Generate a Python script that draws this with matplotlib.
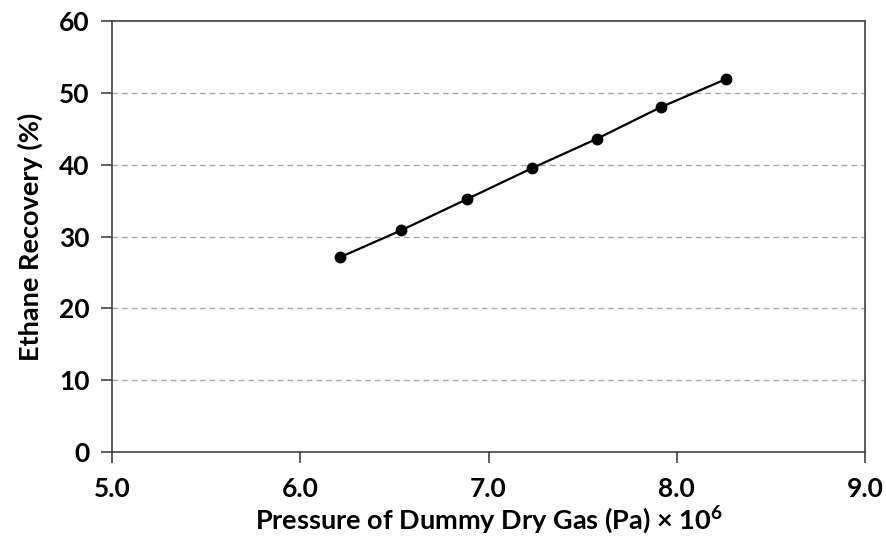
import matplotlib
matplotlib.use("Agg")
import matplotlib.pyplot as plt

FONT = ["Lato", "DejaVu Sans"]
plt.rcParams["font.family"] = FONT
plt.rcParams["font.weight"] = "bold"
plt.rcParams["mathtext.fontset"] = "custom"
plt.rcParams["mathtext.rm"] = "Lato:bold"
plt.rcParams["mathtext.it"] = "Lato:bold"
plt.rcParams["mathtext.bf"] = "Lato:bold"

# pressure (Pa x 1e6) and ethane recovery (%)
pressure = [6.21, 6.535, 6.885, 7.23, 7.575, 7.915, 8.26]
recovery = [27.1, 30.85, 35.2, 39.5, 43.6, 48.0, 51.9]

x_ticks = [5.0, 6.0, 7.0, 8.0, 9.0]
y_ticks = [0, 10, 20, 30, 40, 50, 60]

TICKSIZE = 19
LABELSIZE = 19.5

fig = plt.figure(figsize=(8.87, 5.39), dpi=100)
ax = fig.add_axes([0.1263, 0.1614, 0.8489, 0.7996])

ax.plot(pressure, recovery, color="black", linewidth=1.6,
        marker="o", markersize=7.5, zorder=3)

ax.set_xlim(5.0, 9.0)
ax.set_ylim(0, 60)
ax.set_xticks(x_ticks)
ax.set_xticklabels([f"{t:.1f}" for t in x_ticks])
ax.set_yticks(y_ticks)
ax.set_yticklabels([str(t) for t in y_ticks])

for y in y_ticks[1:-1]:
    ax.axhline(y, color="#a6a6a6", linestyle=(0, (4, 3)), linewidth=1.0, zorder=1)

for s in ax.spines.values():
    s.set_color("#404040")
    s.set_linewidth(1.2)

ax.tick_params(axis="both", direction="out", length=8, width=1.2,
               color="#404040", labelsize=TICKSIZE, pad=8)
ax.tick_params(axis="x", pad=10)

ax.set_xlabel("Pressure of Dummy Dry Gas (Pa) × 10$^{6}$",
              fontsize=LABELSIZE, fontweight="bold", labelpad=2)
ax.set_ylabel("Ethane Recovery (%)", fontsize=LABELSIZE,
              fontweight="bold", labelpad=12)

fig.savefig("out.png", dpi=100)
